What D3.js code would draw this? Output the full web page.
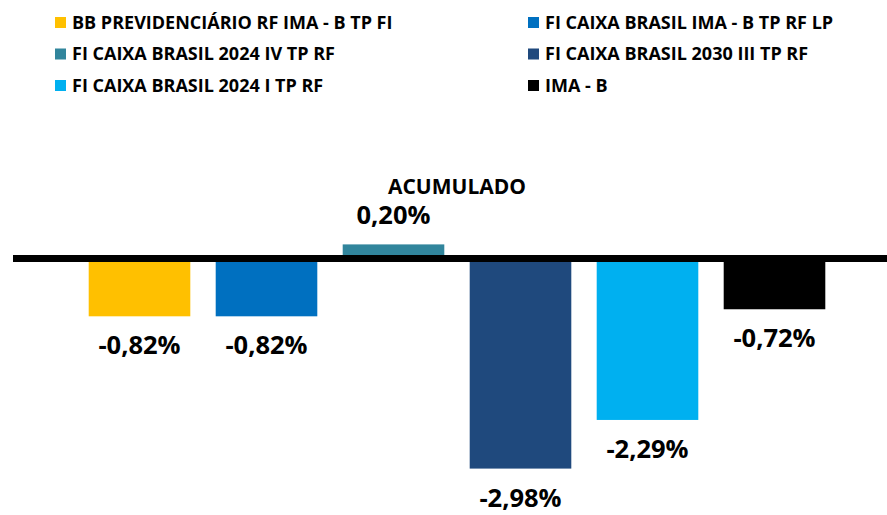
<!DOCTYPE html>
<html>
<head>
<meta charset="utf-8">
<script src="https://cdn.jsdelivr.net/npm/d3@7"></script>
<style>
  body { margin: 0; background: #fff; }
  text { font-family: "Open Sans", Lato, sans-serif; font-weight: bold; fill: #000; }
</style>
</head>
<body>
<script>
var width = 887,
    height = 515;

// data
var categories = [
  "BB PREVIDENCIÁRIO RF IMA - B TP FI",
  "FI CAIXA BRASIL IMA - B TP RF LP",
  "FI CAIXA BRASIL 2024 IV TP RF",
  "FI CAIXA BRASIL 2030 III TP RF",
  "FI CAIXA BRASIL 2024 I TP RF",
  "IMA - B"
];
var values = [-0.82, -0.82, 0.20, -2.98, -2.29, -0.72];
var colors = ["#FFC000", "#0070C0", "#31859C", "#1F497D", "#00B0F0", "#000000"];
var title = "ACUMULADO";

var fmt = function(v) { return v.toFixed(2).replace(".", ",") + "%"; };

var svg = d3.select("body").append("svg")
    .attr("width", width)
    .attr("height", height);

var x = d3.scaleBand()
    .domain(categories)
    .range([76, 838])
    .paddingInner(0.2)
    .paddingOuter(0.1);

var y = d3.scaleLinear()
    .domain([-3.5, 0.5])
    .range([505.25, 223.25]);

var color = d3.scaleOrdinal().domain(categories).range(colors);

// legend, 2 columns x 3 rows
var legend = svg.append("g").attr("class", "legend")
  .selectAll("g")
  .data(categories)
  .enter().append("g")
    .attr("transform", function(d, i) {
      return "translate(" + (i % 2 ? 528 : 55) + "," + (17 + Math.floor(i / 2) * 31.5) + ")";
    });

legend.append("rect")
    .attr("width", 11)
    .attr("height", 11)
    .attr("fill", function(d) { return color(d); });

legend.append("text")
    .attr("x", 17)
    .attr("y", 11.5)
    .style("font-size", "18px")
    .text(function(d) { return d; });

// title
svg.append("text")
    .attr("x", 457)
    .attr("y", 194)
    .attr("text-anchor", "middle")
    .style("font-size", "21px")
    .text(title);

// bars
var bars = svg.append("g").attr("class", "bars")
  .selectAll("rect")
  .data(values)
  .enter().append("rect")
    .attr("x", function(d, i) { return x(categories[i]); })
    .attr("width", x.bandwidth())
    .attr("y", function(d) { return y(Math.max(0, d)); })
    .attr("height", function(d) { return Math.abs(y(d) - y(0)); })
    .attr("fill", function(d, i) { return colors[i]; });

// zero line on top
svg.append("line")
    .attr("x1", 13)
    .attr("x2", width)
    .attr("y1", y(0))
    .attr("y2", y(0))
    .attr("stroke", "#000")
    .attr("stroke-width", 7);

// value labels
svg.append("g").attr("class", "labels")
  .selectAll("text")
  .data(values)
  .enter().append("text")
    .attr("x", function(d, i) { return x(categories[i]) + x.bandwidth() / 2; })
    .attr("y", function(d) { return d < 0 ? y(d) + 38 : y(d) - 20; })
    .attr("text-anchor", "middle")
    .style("font-size", "25.5px")
    .text(fmt);
</script>
</body>
</html>
